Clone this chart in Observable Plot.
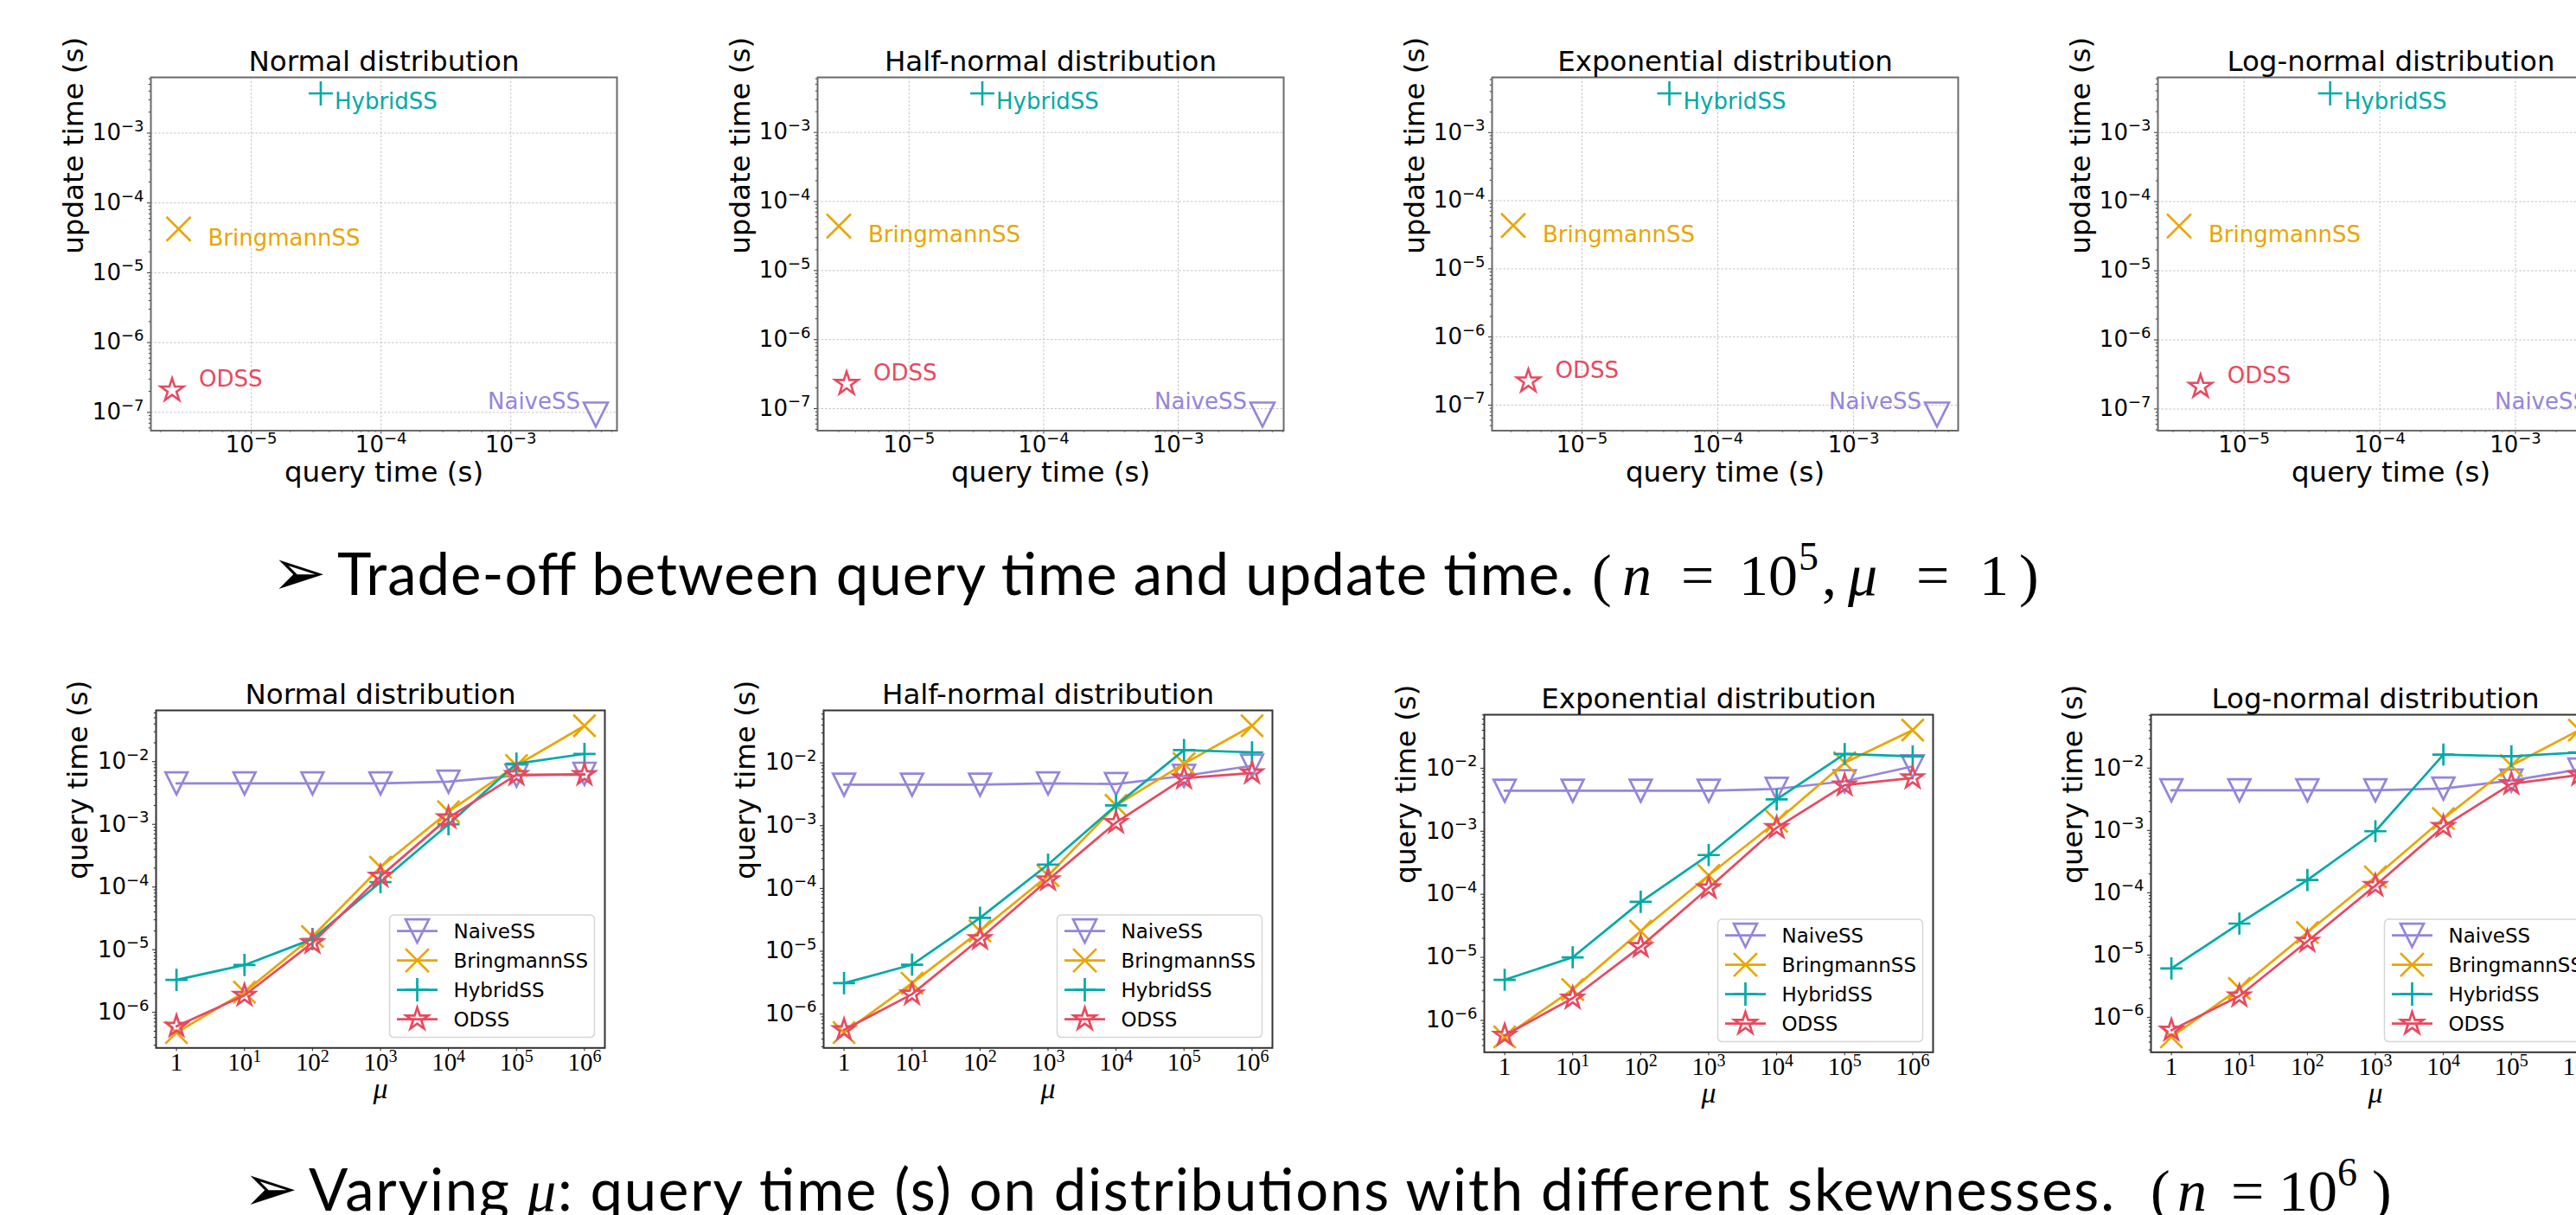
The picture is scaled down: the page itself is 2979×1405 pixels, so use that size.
<!DOCTYPE html>
<html><head><meta charset="utf-8">
<script src="https://cdn.jsdelivr.net/npm/d3@7"></script>
<script src="https://cdn.jsdelivr.net/npm/@observablehq/plot@0.6"></script>
<style>
html,body{margin:0;padding:0;background:#fff;}
#page{position:relative;width:2979px;height:1405px;overflow:hidden;background:#fff;}
</style></head><body><div id="page"></div>
<script>
// ---------------- DATA ----------------
const methods = ["NaiveSS", "BringmannSS", "HybridSS", "ODSS"];
const distributions = ["Normal distribution", "Half-normal distribution", "Exponential distribution", "Log-normal distribution"];
const colors = ["#9585dc", "#eaa500", "#00aaa6", "#e8495f"];

// Trade-off (n = 1e5, mu = 1); order: NaiveSS, BringmannSS, HybridSS, ODSS
const normalQuery = [4.52e-3, 2.75e-6, 3.43e-5, 2.45e-6];
const normalUpdate = [9.3e-8, 4.24e-5, 3.7e-3, 2.07e-7];
const halfNormalQuery = [4.23e-3, 3.0e-6, 3.5e-5, 3.43e-6];
const halfNormalUpdate = [8.2e-8, 4.4e-5, 3.67e-3, 2.3e-7];
const exponentialQuery = [4.11e-3, 3.12e-6, 4.4e-5, 4.03e-6];
const exponentialUpdate = [7.26e-8, 4.33e-5, 3.75e-3, 2.24e-7];
const logNormalQuery = [4.4e-3, 3.32e-6, 4.31e-5, 4.78e-6];
const logNormalUpdate = [8.3e-8, 4.44e-5, 3.67e-3, 2.11e-7];

// Varying mu (n = 1e6): query time (s)
const muValues = [1, 10, 100, 1e3, 1e4, 1e5, 1e6];
const normalNaive = [4.5e-3, 4.5e-3, 4.5e-3, 4.5e-3, 4.8e-3, 6.0e-3, 6.4e-3];
const normalBringmann = [4.76e-7, 2.1e-6, 1.62e-5, 2.07e-4, 1.59e-3, 8.7e-3, 0.0374];
const normalHybrid = [3.3e-6, 5.7e-6, 1.48e-5, 1.2e-4, 1.0e-3, 9.3e-3, 0.0133];
const normalODSS = [6.0e-7, 1.87e-6, 1.29e-5, 1.48e-4, 1.27e-3, 6.2e-3, 6.2e-3];

const halfNormalNaive = [4.5e-3, 4.5e-3, 4.5e-3, 4.7e-3, 4.6e-3, 6.2e-3, 9.0e-3];
const halfNormalBringmann = [5.06e-7, 3.1e-6, 2.1e-5, 1.6e-4, 2.1e-3, 9.7e-3, 0.039];
const halfNormalHybrid = [3.1e-6, 6.1e-6, 3.4e-5, 2.4e-4, 2.1e-3, 0.016, 0.0147];
const halfNormalODSS = [5.6e-7, 2.07e-6, 1.58e-5, 1.37e-4, 1.12e-3, 5.7e-3, 6.9e-3];

const exponentialNaive = [4.4e-3, 4.4e-3, 4.4e-3, 4.4e-3, 4.7e-3, 6.2e-3, 0.0107];
const exponentialBringmann = [5.47e-7, 3.1e-6, 2.6e-5, 2.0e-4, 1.44e-3, 0.0122, 0.0403];
const exponentialHybrid = [4.4e-6, 1.0e-5, 7.6e-5, 4.2e-4, 3.2e-3, 0.0168, 0.0154];
const exponentialODSS = [5.8e-7, 2.25e-6, 1.48e-5, 1.26e-4, 1.14e-3, 5.4e-3, 7.0e-3];

const logNormalNaive = [4.4e-3, 4.4e-3, 4.4e-3, 4.4e-3, 4.7e-3, 6.3e-3, 9.5e-3];
const logNormalBringmann = [4.85e-7, 2.9e-6, 2.3e-5, 1.8e-4, 1.55e-3, 0.011, 0.0408];
const logNormalHybrid = [6.1e-6, 3.2e-5, 1.6e-4, 9.7e-4, 0.0165, 0.0155, 0.0178];
const logNormalODSS = [6.2e-7, 2.2e-6, 1.66e-5, 1.3e-4, 1.15e-3, 5.6e-3, 7.8e-3];

// tick values / labels
const topXTicks = [1e-5, 1e-4, 1e-3];
const topXTickLabels = ["10^-5", "10^-4", "10^-3"];
const topYTicks = [1e-7, 1e-6, 1e-5, 1e-4, 1e-3];
const topYTickLabels = ["10^-7", "10^-6", "10^-5", "10^-4", "10^-3"];
const muTickLabels = ["1", "10^1", "10^2", "10^3", "10^4", "10^5", "10^6"];
const botYTicks = [1e-6, 1e-5, 1e-4, 1e-3, 1e-2];
const botYTickLabels = ["10^-6", "10^-5", "10^-4", "10^-3", "10^-2"];

const tradeoffSets = [[normalQuery, normalUpdate], [halfNormalQuery, halfNormalUpdate], [exponentialQuery, exponentialUpdate], [logNormalQuery, logNormalUpdate]];
const muSets = [
  [normalNaive, normalBringmann, normalHybrid, normalODSS],
  [halfNormalNaive, halfNormalBringmann, halfNormalHybrid, halfNormalODSS],
  [exponentialNaive, exponentialBringmann, exponentialHybrid, exponentialODSS],
  [logNormalNaive, logNormalBringmann, logNormalHybrid, logNormalODSS]
];

// ---------------- SYMBOLS (matplotlib-like) ----------------
const symTriDown = {draw(c, s) {const h = Math.sqrt(s / Math.PI); c.moveTo(0, h); c.lineTo(-h, -h); c.lineTo(h, -h); c.closePath();}};
const symX = {draw(c, s) {const h = Math.sqrt(s / Math.PI); c.moveTo(-h, -h); c.lineTo(h, h); c.moveTo(-h, h); c.lineTo(h, -h);}};
const symPlus = {draw(c, s) {const h = Math.sqrt(s / Math.PI); c.moveTo(-h, 0); c.lineTo(h, 0); c.moveTo(0, -h); c.lineTo(0, h);}};
const symStar = {draw(c, s) {
  const R = Math.sqrt(s / Math.PI), r = R * 0.381966;
  for (let i = 0; i < 10; i++) {
    const a = -Math.PI / 2 + i * Math.PI / 5, rr = i % 2 ? r : R;
    const x = rr * Math.cos(a), y = rr * Math.sin(a);
    if (i) c.lineTo(x, y); else c.moveTo(x, y);
  }
  c.closePath();
}};
const symbols = [symTriDown, symX, symPlus, symStar];

// ---------------- HELPERS ----------------
const page = document.getElementById("page");
const SVGNS = "http://www.w3.org/2000/svg";
function place(node, left, top) {
  node.style.position = "absolute";
  node.style.left = left + "px";
  node.style.top = top + "px";
  page.appendChild(node);
}
function logDomain(vals) {
  const l = vals.map(Math.log10), a = d3.min(l), b = d3.max(l), m = (b - a) * 0.05;
  return [10 ** (a - m), 10 ** (b + m)];
}
function minorTicks([lo, hi]) {
  const out = [];
  for (let e = Math.floor(Math.log10(lo)); e <= Math.ceil(Math.log10(hi)); e++)
    for (let k = 2; k <= 9; k++) { const v = k * 10 ** e; if (v >= lo && v <= hi) out.push(v); }
  return out;
}
function lookup(ticks, labels) { return d => labels[ticks.findIndex(t => Math.abs(t / d - 1) < 1e-6)] ?? ""; }
// rewrite "10^k" tick labels as 10 + superscript, with explicit fonts
function styleTicks(svg, xs, ys) {
  svg.querySelectorAll("text").forEach(t => {
    const s = t.textContent;
    if (!/^(10\^.+|1)$/.test(s)) return;
    const g = t.closest("g[aria-label]");
    const isX = g && /x-axis/.test(g.getAttribute("aria-label"));
    const o = isX ? xs : ys;
    t.setAttribute("font-family", o.font);
    t.setAttribute("font-size", o.size);
    t.style.fontSize = o.size + "px";
    t.style.fontFamily = o.font;
    const m = /^10\^(.+)$/.exec(s);
    if (!m) return;
    t.textContent = "10";
    const ts = document.createElementNS(SVGNS, "tspan");
    ts.setAttribute("font-size", o.sup);
    ts.style.fontSize = o.sup + "px";
    ts.setAttribute("dy", -o.supDy);
    ts.textContent = m[1].replace("-", "\u2212");
    t.appendChild(ts);
  });
}
const sansTicks = {font: "DejaVu Sans", size: 26, sup: 18, supDy: 10.5};
const serifTicks = {font: "Liberation Serif", size: 29, sup: 20, supDy: 10};

// ---------------- TOP ROW: trade-off ----------------
const topFrameLeft = [174, 945, 1724.5, 2495.3];
const topFrameTop = 89, topFW = 539, topFH = 408.5;
const labelOffsets = [{dx: -18, dy: -6, anchor: "end"}, {dx: 34, dy: 19, anchor: "start"}, {dx: 16, dy: 18, anchor: "start"}, {dx: 31, dy: -4, anchor: "start"}];

tradeoffSets.forEach(([qArr, uArr], i) => {
  const rows = methods.map((m, j) => ({method: m, q: qArr[j], u: uArr[j]}));
  const xd = logDomain(qArr), yd = logDomain(uArr);
  const ml = 130, mr = 40, mt = 70, mb = 80;
  const marks = [
    Plot.gridX(topXTicks, {stroke: "#c4c4c4", strokeOpacity: 1, strokeWidth: 1, strokeDasharray: "2.5,2"}),
    Plot.gridY(topYTicks, {stroke: "#c4c4c4", strokeOpacity: 1, strokeWidth: 1, strokeDasharray: "2.5,2"}),
    Plot.axisX(minorTicks(xd), {tickSize: 2.2, tickFormat: () => "", stroke: "#333", label: null}),
    Plot.axisY(minorTicks(yd), {tickSize: 2.2, tickFormat: () => "", stroke: "#333", label: null}),
    Plot.axisX(topXTicks, {tickSize: 4, tickPadding: 3, tickFormat: lookup(topXTicks, topXTickLabels), stroke: "#333", fontSize: 26, label: null}),
    Plot.axisY(topYTicks, {tickSize: 4, tickPadding: 4, tickFormat: lookup(topYTicks, topYTickLabels), stroke: "#333", fontSize: 26, label: null}),
    Plot.frame({stroke: "#6a6a6a", strokeWidth: 2})
  ];
  rows.forEach((r, j) => {
    marks.push(Plot.dot([r], {x: "q", y: "u", symbol: symbols[j], r: 14, stroke: colors[j], strokeWidth: 2.6, fill: "none"}));
    const o = labelOffsets[j];
    marks.push(Plot.text([r], {x: "q", y: "u", text: "method", fill: colors[j], dx: o.dx, dy: o.dy, textAnchor: o.anchor, lineAnchor: "bottom", fontSize: 26, fontFamily: "DejaVu Sans"}));
  });
  marks.push(
    Plot.text([distributions[i]], {text: d => d, frameAnchor: "top", lineAnchor: "bottom", dy: -8, fontSize: 32.5, fontFamily: "DejaVu Sans"}),
    Plot.text(["query time (s)"], {text: d => d, frameAnchor: "bottom", lineAnchor: "bottom", dy: 58.5, fontSize: 32.5, fontFamily: "DejaVu Sans"}),
    Plot.text(["update time (s)"], {text: d => d, frameAnchor: "left", rotate: -90, dx: -89, lineAnchor: "middle", fontSize: 32.5, fontFamily: "DejaVu Sans"})
  );
  const svg = Plot.plot({
    width: topFW + ml + mr, height: topFH + mt + mb,
    marginLeft: ml, marginRight: mr, marginTop: mt, marginBottom: mb,
    x: {type: "log", domain: xd, label: null},
    y: {type: "log", domain: yd, label: null},
    style: {background: "transparent", fontFamily: "DejaVu Sans", fontSize: "26px", color: "black", overflow: "visible"},
    marks
  });
  styleTicks(svg, sansTicks, sansTicks);
  place(svg, topFrameLeft[i] - ml, topFrameTop - mt);
});

// ---------------- BOTTOM ROW: varying mu ----------------
const botFrameLeft = [180, 952, 1716.3, 2487.3];
const botFrameTop = [821.4, 821.4, 826, 826];
const botFW = 519, botFH = 390.3;

function legendMark() {
  return (index, scales, values, dims) => {
    const {width, height, marginRight, marginBottom} = dims;
    const boxW = 237, boxH = 141.5;
    const x0 = width - marginRight - 11.5 - boxW, y0 = height - marginBottom - 11.7 - boxH;
    const g = d3.create("svg:g").attr("text-anchor", "start");
    g.append("rect").attr("x", x0).attr("y", y0).attr("width", boxW).attr("height", boxH).attr("rx", 5)
      .attr("fill", "white").attr("fill-opacity", 0.8).attr("stroke", "#d6d6d6").attr("stroke-width", 1.5);
    methods.forEach((m, i) => {
      const cy = y0 + 18.5 + 34 * i;
      g.append("line").attr("x1", x0 + 8.5).attr("x2", x0 + 55.5).attr("y1", cy).attr("y2", cy)
        .attr("stroke", colors[i]).attr("stroke-width", 2.7);
      const p = d3.path(); symbols[i].draw(p, Math.PI * 13.5 * 13.5);
      g.append("path").attr("d", p.toString()).attr("transform", `translate(${x0 + 32},${cy})`)
        .attr("fill", "none").attr("stroke", colors[i]).attr("stroke-width", 2.7);
      g.append("text").attr("x", x0 + 74).attr("y", cy).attr("dy", "0.365em").attr("text-anchor", "start")
        .attr("font-size", 23).attr("font-family", "DejaVu Sans").attr("fill", "black").text(m);
    });
    return g.node();
  };
}

muSets.forEach((series, i) => {
  const ml = 130, mr = 40, mt = 60, mb = 80;
  const yd = logDomain(series.flat());
  const xd = logDomain(muValues);
  const marks = [
    Plot.axisY(minorTicks(yd), {tickSize: 2.2, tickFormat: () => "", stroke: "#222", label: null}),
    Plot.axisX(muValues, {tickSize: 4, tickPadding: 1.5, tickFormat: lookup(muValues, muTickLabels), stroke: "#222", label: null}),
    Plot.axisY(botYTicks, {tickSize: 4, tickPadding: 4, tickFormat: lookup(botYTicks, botYTickLabels), stroke: "#222", label: null}),
    Plot.frame({stroke: "#333", strokeWidth: 2})
  ];
  series.forEach((vals, j) => {
    const rows = muValues.map((mu, k) => ({mu, t: vals[k], method: methods[j]}));
    marks.push(Plot.line(rows, {x: "mu", y: "t", stroke: colors[j], strokeWidth: 2.7}));
    marks.push(Plot.dot(rows, {x: "mu", y: "t", symbol: symbols[j], r: 12.8, stroke: colors[j], strokeWidth: 2.7, fill: "none"}));
  });
  marks.push(
    legendMark(),
    Plot.text([distributions[i]], {text: d => d, frameAnchor: "top", lineAnchor: "bottom", dy: -7, fontSize: 32.5, fontFamily: "DejaVu Sans"}),
    Plot.text(["\u03bc"], {text: d => d, frameAnchor: "bottom", lineAnchor: "bottom", dy: 58, fontSize: 34, fontFamily: "Liberation Serif", fontStyle: "italic"}),
    Plot.text(["query time (s)"], {text: d => d, frameAnchor: "left", rotate: -90, dx: -90, lineAnchor: "middle", fontSize: 32.5, fontFamily: "DejaVu Sans"})
  );
  const svg = Plot.plot({
    width: botFW + ml + mr, height: botFH + mt + mb,
    marginLeft: ml, marginRight: mr, marginTop: mt, marginBottom: mb,
    x: {type: "log", domain: xd, label: null},
    y: {type: "log", domain: yd, label: null},
    style: {background: "transparent", fontFamily: "DejaVu Sans", fontSize: "26px", color: "black", overflow: "visible"},
    marks
  });
  styleTicks(svg, serifTicks, sansTicks);
  place(svg, botFrameLeft[i] - ml, botFrameTop[i] - mt);
});

// ---------------- CAPTIONS ----------------
const cap = d3.select(page).append("svg").attr("width", 2979).attr("height", 1405)
  .style("position", "absolute").style("left", "0px").style("top", "0px");
function arrow(x, y) {
  cap.append("text").attr("x", x).attr("y", y).attr("font-family", "DejaVu Sans").attr("font-size", 76).attr("fill", "black").text("\u27a2");
}
function mathPieces(x0, y, pieces) {
  pieces.forEach(p => {
    cap.append("text").attr("x", x0 + p.dx).attr("y", p.sup ? y - 29 : y)
      .attr("font-family", "Liberation Serif").attr("font-size", p.sup ? 46 : 68)
      .attr("font-style", p.it ? "italic" : "normal").attr("fill", "black").text(p.t);
  });
}
// line 1
arrow(314, 688);
cap.append("text").attr("x", 390).attr("y", 688).attr("font-family", "Lato").attr("font-size", 67).attr("fill", "black")
  .attr("textLength", 1430).attr("lengthAdjust", "spacing")
  .text("Trade-off between query time and update time.");
mathPieces(1841, 688, [
  {t: "(", dx: 0}, {t: "n", dx: 35, it: true}, {t: "=", dx: 103}, {t: "10", dx: 170},
  {t: "5", dx: 239, sup: true}, {t: ",", dx: 266}, {t: "\u03bc", dx: 296, it: true},
  {t: "=", dx: 375}, {t: "1", dx: 448}, {t: ")", dx: 494}
]);
// line 2
arrow(281, 1400);
const l2 = cap.append("text").attr("x", 357).attr("y", 1400).attr("font-family", "Lato").attr("font-size", 67).attr("fill", "black")
  .attr("textLength", 2088).attr("lengthAdjust", "spacing");
l2.append("tspan").text("Varying ");
l2.append("tspan").attr("font-family", "Liberation Serif").attr("font-style", "italic").text("\u03bc");
l2.append("tspan").text(": query time (s) on distributions with different skewnesses.");
mathPieces(2487, 1400, [
  {t: "(", dx: 0}, {t: "n", dx: 31, it: true}, {t: "=", dx: 93}, {t: "10", dx: 148},
  {t: "6", dx: 216, sup: true}, {t: ")", dx: 256}
]);
</script></body></html>
